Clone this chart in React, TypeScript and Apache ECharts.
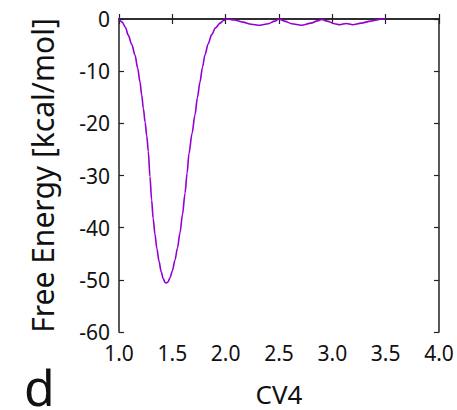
import React, { useEffect, useRef } from "react";
import * as echarts from "echarts";

// CV4 values (x) and free energy values (y)
const cvValues = [
  1.0, 1.03, 1.06, 1.087, 1.12, 1.15, 1.175, 1.197, 1.213, 1.228, 1.245, 1.26,
  1.275, 1.29, 1.306, 1.32, 1.337, 1.355, 1.375, 1.395, 1.415, 1.432, 1.445,
  1.46, 1.478, 1.5, 1.525, 1.548, 1.572, 1.595, 1.619, 1.638, 1.656, 1.685,
  1.712, 1.735, 1.759, 1.782, 1.806, 1.835, 1.869, 1.905, 1.947, 1.98, 2.01,
  2.08, 2.16, 2.24, 2.32, 2.4, 2.46, 2.5, 2.55, 2.62, 2.71, 2.8, 2.86, 2.9,
  2.95, 3.02, 3.07, 3.13, 3.19, 3.27, 3.36, 3.47, 3.5,
];
const freeEnergy = [
  0, -0.6, -1.6, -3.1, -4.9, -6.9, -9.4, -12.1, -14.6, -17.1, -19.8, -22.4,
  -25.4, -30.2, -34.7, -38.2, -41.2, -44.0, -46.4, -48.4, -49.8, -50.5, -50.6,
  -50.4, -49.6, -48.3, -46.2, -43.9, -41.0, -37.5, -33.4, -29.6, -25.8, -21.9,
  -18.4, -15.1, -12.1, -9.3, -6.9, -4.8, -3.0, -1.7, -0.8, -0.3, 0, -0.2, -0.6,
  -1.0, -1.2, -0.9, -0.4, 0, -0.4, -0.9, -1.2, -0.8, -0.35, -0.1, -0.4, -0.9,
  -1.1, -0.85, -1.1, -0.8, -0.4, 0, 0,
];
const xTicks = { min: 1.0, max: 4.0, interval: 0.5 };
const yTicks = { min: -60, max: 0, interval: 10 };

const FONT = "Noto Sans";

export default function App() {
  const ref = useRef<HTMLDivElement>(null);
  useEffect(() => {
    document.body.style.margin = "0";
    const chart = echarts.init(ref.current!, null, { renderer: "svg" });
    const data = cvValues.map((x, i) => [x, freeEnergy[i]]);
    const axisLine = { show: true, lineStyle: { color: "#222", width: 1.5 } };
    const axisTick = { show: true, inside: true, length: 5, lineStyle: { color: "#222", width: 1.2 } };
    chart.setOption({
      animation: false,
      backgroundColor: "#fff",
      grid: { left: 119, right: 18, top: 19, bottom: 78, containLabel: false, outerBoundsMode: "none" },
      xAxis: [
        {
          type: "value",
          ...xTicks,
          axisLine,
          axisTick,
          splitLine: { show: false },
          axisLabel: {
            margin: 10,
            fontSize: 21,
            fontFamily: FONT,
            color: "#111",
            formatter: (v: number) => v.toFixed(1),
          },
          name: "CV4",
          nameLocation: "middle",
          nameGap: 50,
          nameTextStyle: { fontSize: 26, lineHeight: 24, fontFamily: FONT, color: "#111" },
        },
        {
          type: "value",
          position: "top",
          ...xTicks,
          axisLine,
          axisTick,
          splitLine: { show: false },
          axisLabel: { show: false },
        },
      ],
      yAxis: [
        {
          type: "value",
          ...yTicks,
          axisLine,
          axisTick,
          splitLine: { show: false },
          axisLabel: { margin: 9, fontSize: 21, fontFamily: FONT, color: "#111" },
          name: "Free Energy [kcal/mol]",
          nameLocation: "middle",
          nameRotate: 90,
          nameGap: 62,
          nameTextStyle: { fontSize: 30, fontFamily: FONT, color: "#111" },
        },
        {
          type: "value",
          position: "right",
          ...yTicks,
          axisLine,
          axisTick,
          splitLine: { show: false },
          axisLabel: { show: false },
        },
      ],
      series: [
        {
          type: "line",
          data,
          smooth: 0.3,
          smoothMonotone: "x",
          showSymbol: false,
          clip: false,
          lineStyle: { color: "#9400D3", width: 1.6 },
        },
      ],
      graphic: [
        {
          type: "text",
          left: 24,
          top: 362,
          style: { text: "d", font: `50px "${FONT}"`, lineHeight: 40, fill: "#111" },
        },
      ],
    });
    return () => chart.dispose();
  }, []);
  return <div ref={ref} style={{ width: 457, height: 410 }} />;
}
